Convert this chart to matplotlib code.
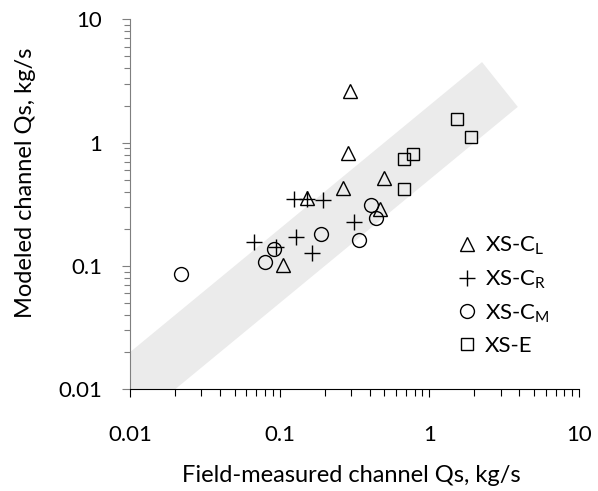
import matplotlib
matplotlib.use('Agg')
import matplotlib.pyplot as plt
from matplotlib.ticker import FuncFormatter, LogLocator

# field-measured (x) and modeled (y) Qs, kg/s
cl_x = [0.293, 0.286, 0.265, 0.495, 0.465, 0.153, 0.105]
cl_y = [2.64, 0.82, 0.427, 0.514, 0.288, 0.354, 0.102]

cr_x = [0.124, 0.196, 0.312, 0.129, 0.0675, 0.0947, 0.164, 0.153]
cr_y = [0.347, 0.343, 0.229, 0.173, 0.157, 0.143, 0.127, 0.352]

cm_x = [0.0219, 0.0796, 0.0923, 0.190, 0.339, 0.407, 0.437]
cm_y = [0.0861, 0.108, 0.137, 0.181, 0.163, 0.312, 0.246]

e_x = [1.53, 1.90, 0.773, 0.673, 0.677]
e_y = [1.56, 1.11, 0.805, 0.738, 0.419]

# factor-of-two band around 1:1 line
band_x = [0.004, 2.25, 3.9, 0.01]
band_y = [0.008, 4.5, 1.95, 0.005]

plt.rcParams['font.family'] = ['Lato', 'DejaVu Sans']
plt.rcParams['mathtext.fontset'] = 'custom'
plt.rcParams['mathtext.rm'] = 'Lato'

fig = plt.figure(figsize=(5.98, 4.91), dpi=100)
ax = fig.add_axes([0.2174, 0.2071, 0.7508, 0.7536])

ax.fill(band_x, band_y, color='#ebebeb', lw=0, zorder=0)

mk = dict(ls='none', mfc='none', mec='black', mew=1.0, color='black')
ax.plot(cl_x, cl_y, marker='^', ms=10, label='XS-C$_\\mathrm{L}$', **mk)
ax.plot(cr_x, cr_y, marker='+', ms=11, label='XS-C$_\\mathrm{R}$', **mk)
ax.plot(cm_x, cm_y, marker='o', ms=10, label='XS-C$_\\mathrm{M}$', **mk)
ax.plot(e_x, e_y, marker='s', ms=9, label='XS-E', **mk)

ax.set_xscale('log')
ax.set_yscale('log')
ax.set_xlim(0.01, 10)
ax.set_ylim(0.01, 10)

fmt = FuncFormatter(lambda v, p: f'{v:g}')
ax.xaxis.set_major_formatter(fmt)
ax.yaxis.set_major_formatter(fmt)
ax.xaxis.set_minor_locator(LogLocator(subs=range(2, 10)))
ax.yaxis.set_minor_locator(LogLocator(subs=range(2, 10)))
ax.xaxis.set_minor_formatter(FuncFormatter(lambda v, p: ''))
ax.yaxis.set_minor_formatter(FuncFormatter(lambda v, p: ''))

ax.spines['top'].set_visible(False)
ax.spines['right'].set_visible(False)
ax.spines['left'].set_color('#7f7f7f')
ax.tick_params(axis='x', which='major', direction='out', length=6, width=0.8,
               labelsize=16, pad=20)
ax.tick_params(axis='x', which='minor', direction='out', length=5, width=0.8)
ax.tick_params(axis='y', which='major', direction='out', length=6, width=0.8,
               color='#7f7f7f', labelsize=16, pad=14)
ax.tick_params(axis='y', which='minor', direction='out', length=4, width=0.8,
               color='#7f7f7f')

ax.set_xlabel('Field-measured channel Qs, kg/s', fontsize=17)
ax.xaxis.set_label_coords(0.493, -0.205)
ax.set_ylabel('Modeled channel Qs, kg/s', fontsize=17)
ax.yaxis.set_label_coords(-0.21, 0.557)

ax.legend(loc='upper left', bbox_to_anchor=(0.752, 0.54),
          bbox_transform=fig.transFigure, frameon=False, fontsize=16,
          handlelength=0.8, handletextpad=0.4, labelspacing=0.5,
          borderaxespad=0)

fig.savefig('out.png', dpi=100)
